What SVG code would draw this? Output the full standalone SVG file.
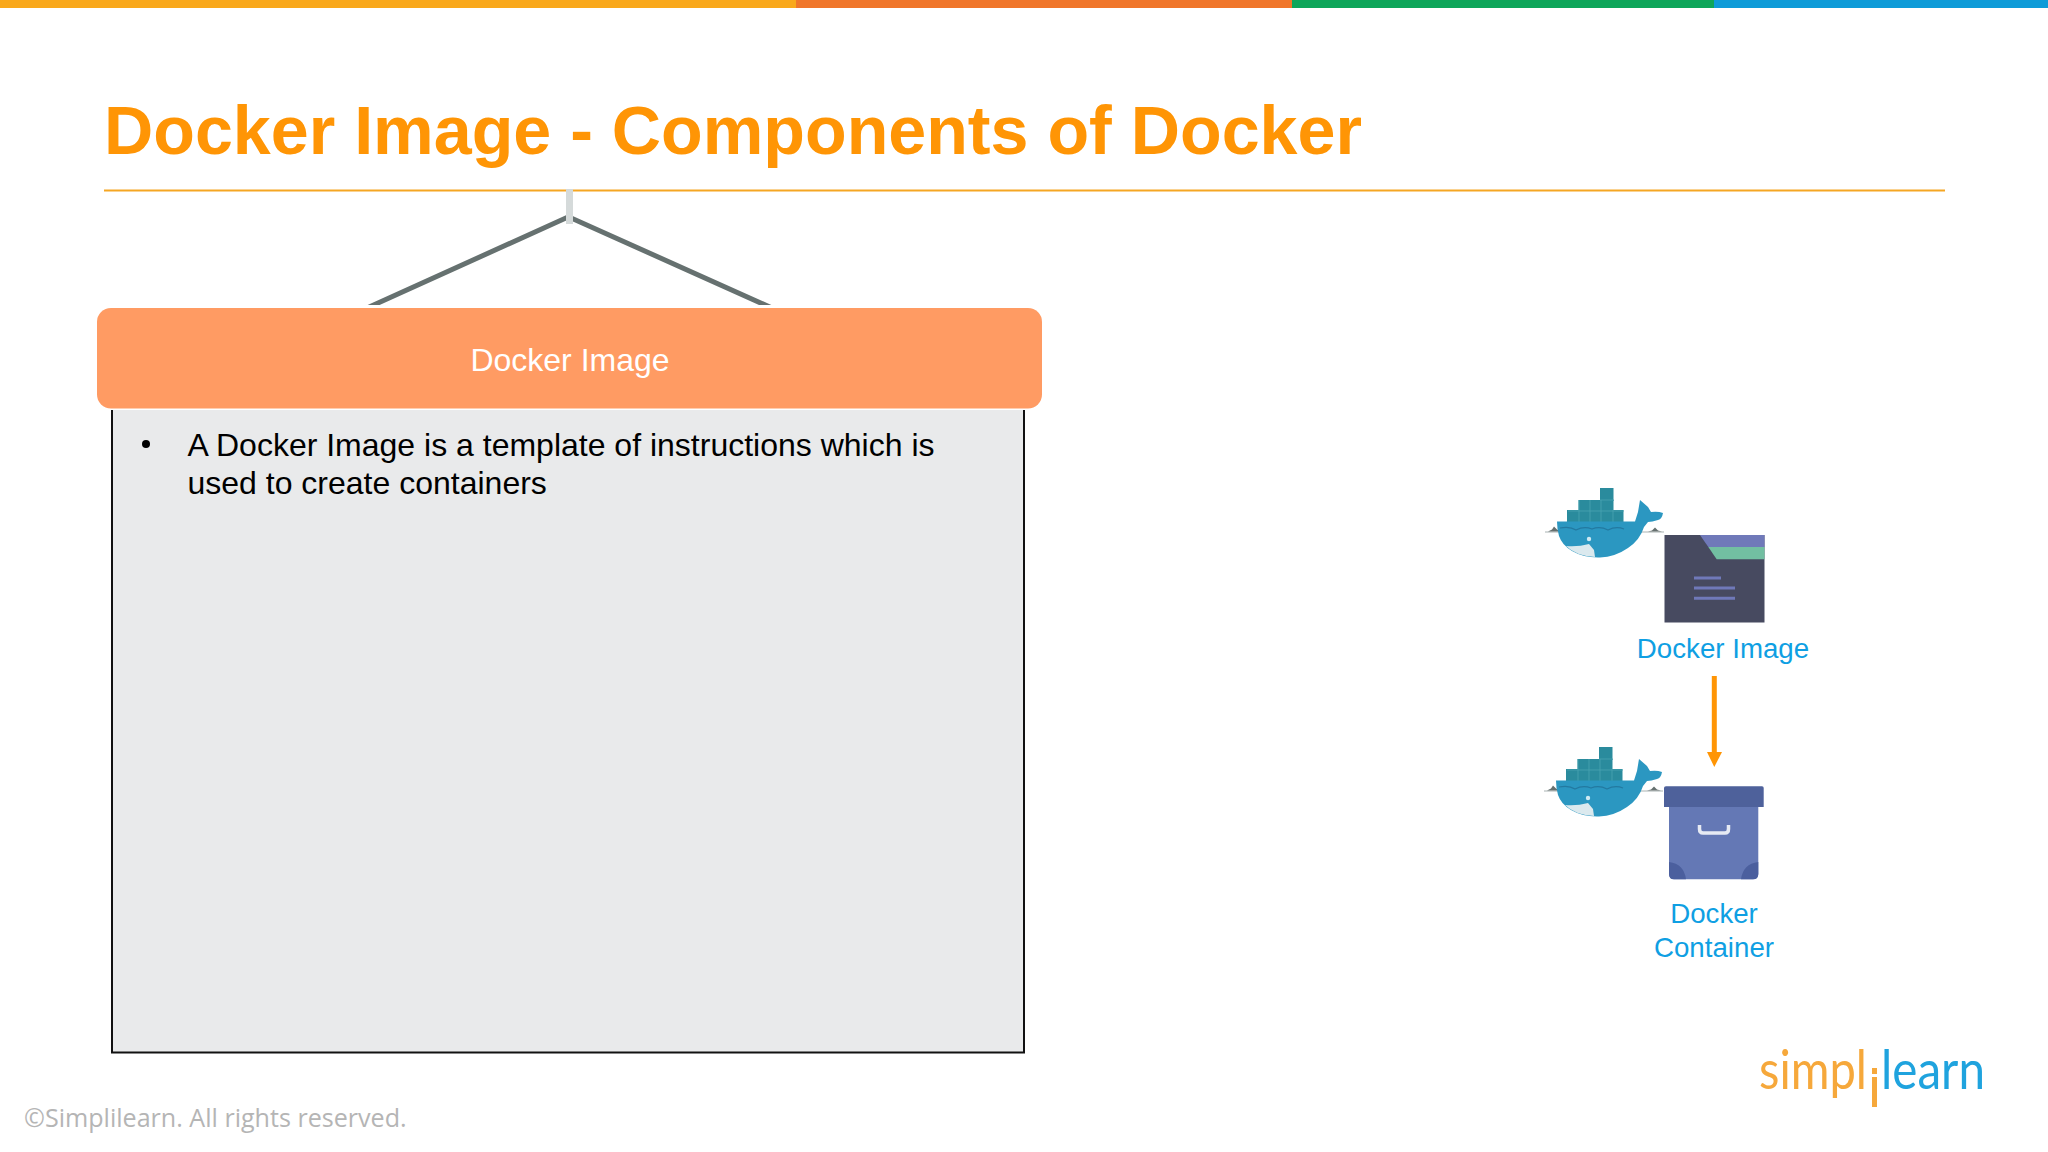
<svg xmlns="http://www.w3.org/2000/svg" xmlns:xlink="http://www.w3.org/1999/xlink" width="2048" height="1152" viewBox="0 0 2048 1152">
<style>
.a{font-family:"Liberation Sans",Arial,sans-serif}
.blue{fill:#0f9fe3;font-size:27.700px;text-anchor:middle}
.body{fill:#000;font-size:32px}
.logo{font-family:"Lato","Open Sans",sans-serif;font-weight:400;font-size:54px}
</style>
<defs>
<g id="whale">
<path d="M1545 532 H1560 M1640 532 H1664" stroke="#aab3b3" stroke-width="1.200"/>
<path d="M1548 531.500 l4 -2 l2 -3 l3 3 l3 2z M1648 531.500 l4 -1 l3 -3 l3 3 l4 1z" fill="#66706f"/>
<g fill="#2a8b9d">
<rect x="1567" y="510" width="56.500" height="12"/>
<rect x="1578.500" y="500" width="35" height="11"/>
<rect x="1600" y="488" width="13.500" height="13"/>
</g>
<path d="M1579 500V522M1590 500V522M1601 500V522M1613 510V522M1568 511H1624M1600 500H1614" stroke="#4aa3b1" stroke-width=".8" fill="none"/>
<path d="M1557 521.500 H1635 L1638 512 L1640 500 L1648 507 L1651 512 Q1658 511 1663 513 Q1662 519 1658 520 Q1652 522 1648 522 L1644 527 Q1640 540 1628 548 Q1615 557 1600 557.500 Q1584 558 1572 551 Q1562 545 1559 536 Q1557 529 1557 521.500Z" fill="#2b97c1"/>
<path d="M1560 528 Q1570 526 1576 530 Q1584 526 1592 529 Q1600 526 1608 530 Q1616 526 1624 529" stroke="#2379a0" stroke-width="1.200" fill="none"/>
<path d="M1566 546 Q1578 547 1589 544 L1594 550 L1595 557 Q1576 556 1566 546Z" fill="#dbe9ee"/>
<circle cx="1589" cy="539" r="2.200" fill="#cfe9f2"/>
</g>
</defs>
<rect width="2048" height="1152" fill="#fff"/>
<g id="top-bar">
<rect x="0" y="0" width="796" height="8" fill="#F9A81B"/>
<rect x="796" y="0" width="496" height="8" fill="#F0762A"/>
<rect x="1292" y="0" width="422" height="8" fill="#0EA65A"/>
<rect x="1714" y="0" width="334" height="8" fill="#0E9BD8"/>
</g>
<g id="title">
<text class="a" x="104" y="154" font-size="68.200" font-weight="700" fill="#FF9505">Docker Image - Components of Docker</text>
<rect x="104" y="189.500" width="1841" height="2" fill="#F5A623"/>
</g>
<g id="connectors">
<path d="M367 308 L567 217.500 M570 217.500 L772 308" stroke="#667170" stroke-width="5" fill="none"/>
<rect x="566" y="189" width="7" height="35" fill="#D5DADA"/>
<path d="M1714.300 676 V753" stroke="#FF9505" stroke-width="5" fill="none"/>
<path d="M1707 752 H1722 L1714.300 767Z" fill="#FF9505"/>
</g>
<g id="docker-image-panel">
<rect x="112" y="410" width="912" height="642.500" fill="#E9EAEB"/>
<path d="M112 410 V1052.500 H1024 V410" fill="none" stroke="#111" stroke-width="2"/>
<rect x="97" y="305" width="945" height="4" fill="#fff"/>
<rect x="97" y="308" width="945" height="100.500" rx="14" fill="#FF9B63"/>
<text class="a" x="570" y="370.500" font-size="32" fill="#fff" text-anchor="middle">Docker Image</text>
<circle cx="146" cy="444" r="4" fill="#000"/>
<text class="a body" x="187.500" y="455.500">A Docker Image is a template of instructions which is</text>
<text class="a body" x="187.500" y="494">used to create containers</text>
</g>
<g id="docker-image-node">
<use xlink:href="#whale" href="#whale"/>
<rect x="1664.500" y="535" width="100" height="87.500" fill="#474A60"/>
<path d="M1700 535 H1764.500 V547 H1708.300Z" fill="#7079B9"/>
<path d="M1708.300 547 H1764.500 V559.300 H1716.700Z" fill="#72BFA2"/>
<path d="M1694 578 H1721 M1694 588 H1735 M1694 598.300 H1735" stroke="#7079B9" stroke-width="3" fill="none"/>
<text class="a blue" x="1723" y="658">Docker Image</text>
</g>
<g id="docker-container-node">
<use xlink:href="#whale" href="#whale" x="-1" y="259"/>
<path d="M1669 805 H1758.300 V874 Q1758.300 879.300 1753 879.300 H1674 Q1669 879.300 1669 874Z" fill="#6478B5"/>
<path d="M1669 862 Q1684 864 1686 879.300 H1674 Q1669 879.300 1669 874Z M1758.300 862 Q1743 864 1741 879.300 H1753 Q1758.300 879.300 1758.300 874Z" fill="#4B5F9E"/>
<path d="M1664 788 Q1664 786.300 1666 786.300 H1762 Q1763.700 786.300 1763.700 788 V807 H1664Z" fill="#4E619B"/>
<path d="M1699.500 825 V829 Q1699.500 833 1703 833 H1725 Q1728.500 833 1728.500 829 V825" fill="none" stroke="#E6EAF3" stroke-width="3.500"/>
<text class="a blue" x="1714" y="923">Docker</text>
<text class="a blue" x="1714" y="956.500">Container</text>
</g>
<g id="logo">
<text class="logo" x="1759" y="1089" fill="#F6A83B" textLength="108" lengthAdjust="spacingAndGlyphs">simpl</text>
<rect x="1872" y="1068" width="5" height="6" fill="#F6A83B"/>
<rect x="1872" y="1077" width="5" height="30" fill="#F6A83B"/>
<text class="logo" x="1881" y="1089" fill="#1FA3DE" textLength="104" lengthAdjust="spacingAndGlyphs">learn</text>
</g>
<text id="copyright" x="24" y="1127" font-family="'Open Sans',sans-serif" font-size="25.100" fill="#B5B5B5">©Simplilearn. All rights reserved.</text>
</svg>
